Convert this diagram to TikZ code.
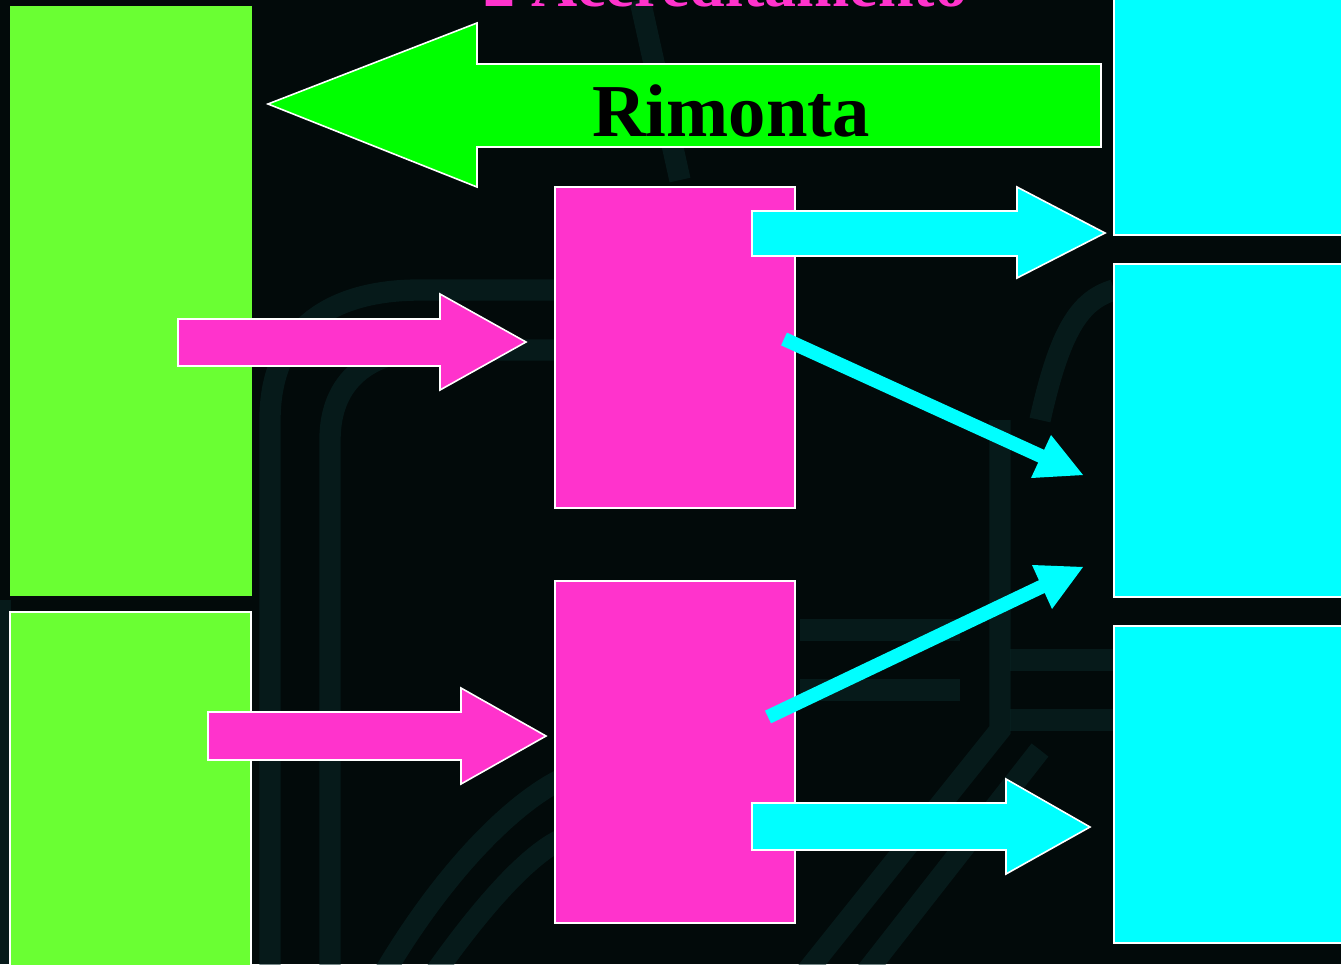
\documentclass[tikz,border=0pt]{standalone}
\usepackage{fontspec}
\setmainfont{Liberation Serif}
\usetikzlibrary{fit}
\definecolor{bg}{HTML}{020A0A}
\definecolor{tex}{HTML}{0A2828}
\definecolor{lgreen}{HTML}{6AFF33}
\definecolor{bgreen}{HTML}{00FF00}
\definecolor{mag}{HTML}{FF33CC}
\definecolor{cy}{HTML}{00FFFF}
\tikzset{
  box/.style={inner sep=0pt, outer sep=0pt, line width=1.5pt},
  gbox/.style={box, fill=lgreen},
  gboxw/.style={box, fill=lgreen, draw=white},
  mbox/.style={box, fill=mag, draw=white},
  cbox/.style={box, fill=cy, draw=white},
  blockarrow/.style={draw=white, line width=1.2pt, line join=miter},
  thinarrow/.style={cy, line width=10.5pt},
  band/.style={tex, line width=16pt, opacity=0.55}
}
\begin{document}
\begin{tikzpicture}[x=0.75pt, y=-0.75pt]
\fill[bg] (0,0) rectangle (1341,964);
\useasboundingbox (0,0) rectangle (1341,964);
% faint background texture
\begin{scope}
\clip (0,0) rectangle (1341,964);
\draw[band] (270,980) -- (270,420) .. controls (270,330) and (330,290) .. (420,290) -- (560,290);
\draw[band] (330,980) -- (330,440) .. controls (330,380) and (370,350) .. (430,350) -- (560,350);
\draw[band] (380,980) .. controls (450,860) and (520,800) .. (560,780);
\draw[band] (430,980) .. controls (500,880) and (540,850) .. (560,840);
\draw[band] (800,980) -- (1000,730) -- (1000,420);
\draw[band] (860,980) -- (1040,750);
\draw[band] (800,630) -- (960,630);
\draw[band] (800,690) -- (960,690);
\draw[band] (1010,660) -- (1114,660);
\draw[band] (1010,720) -- (1114,720);
\draw[band] (1040,420) .. controls (1060,330) and (1080,300) .. (1114,290);
\draw[band] (640,0) -- (680,180);
\draw[band] (0,600) -- (0,964);
\end{scope}

% coordinates for boxes
\coordinate (g1a) at (10,6);    \coordinate (g1b) at (252,596);
\coordinate (g2a) at (10,612);  \coordinate (g2b) at (251,975);
\coordinate (m1a) at (555,187); \coordinate (m1b) at (795,508);
\coordinate (m2a) at (555,581); \coordinate (m2b) at (795,923);
\coordinate (c1a) at (1114,-20); \coordinate (c1b) at (1360,235);
\coordinate (c2a) at (1114,264); \coordinate (c2b) at (1360,597);
\coordinate (c3a) at (1114,626); \coordinate (c3b) at (1360,943);

\node[gbox, fit=(g1a)(g1b)] (g1) {};
\node[gboxw, fit=(g2a)(g2b)] (g2) {};
\node[cbox, fit=(c1a)(c1b)] (c1) {};
\node[cbox, fit=(c2a)(c2b)] (c2) {};
\node[cbox, fit=(c3a)(c3b)] (c3) {};
\node[mbox, fit=(m1a)(m1b)] (m1) {};
\node[mbox, fit=(m2a)(m2b)] (m2) {};

% title (cut off at the top, as in the reference)
\node[anchor=base, text=mag, font=\bfseries\fontsize{48}{50}\selectfont, inner sep=0pt] (title) at (725,6) {2 Accreditamento};

% big green arrow "Rimonta"
\coordinate (rtip) at (268,104);
\draw[blockarrow, fill=bgreen] (rtip) -- (477,23) -- (477,64) -- (1101,64) -- (1101,147) -- (477,147) -- (477,187) -- cycle;
\node[font=\bfseries\fontsize{56}{58}\selectfont, text=black, inner sep=0pt] (rim) at (731,111) {Rimonta};

% magenta block arrows
\coordinate (p1tip) at (526,342);
\draw[blockarrow, fill=mag] (178,319) -- (440,319) -- (440,294) -- (p1tip) -- (440,390) -- (440,366) -- (178,366) -- cycle;
\coordinate (p2tip) at (546,736);
\draw[blockarrow, fill=mag] (208,712) -- (461,712) -- (461,688) -- (p2tip) -- (461,784) -- (461,760) -- (208,760) -- cycle;

% cyan block arrows
\coordinate (q1tip) at (1105,233);
\draw[blockarrow, fill=cy] (752,211) -- (1017,211) -- (1017,187) -- (q1tip) -- (1017,278) -- (1017,256) -- (752,256) -- cycle;
\coordinate (q2tip) at (1090,827);
\draw[blockarrow, fill=cy] (752,803) -- (1006,803) -- (1006,779) -- (q2tip) -- (1006,874) -- (1006,850) -- (752,850) -- cycle;

% thin cyan diagonal arrows
\coordinate (d1s) at (784,339);
\coordinate (d1t) at (1083,475);
\coordinate (d1e) at (1043,457);
\draw[thinarrow] (d1s) -- (d1e);
\fill[cy] (d1t) -- (1051,435) -- (1031,478) -- cycle;
\coordinate (d2s) at (768,717);
\coordinate (d2t) at (1083,567);
\coordinate (d2e) at (1043,586);
\draw[thinarrow] (d2s) -- (d2e);
\fill[cy] (d2t) -- (1032,565) -- (1052,609) -- cycle;
\end{tikzpicture}
\end{document}
